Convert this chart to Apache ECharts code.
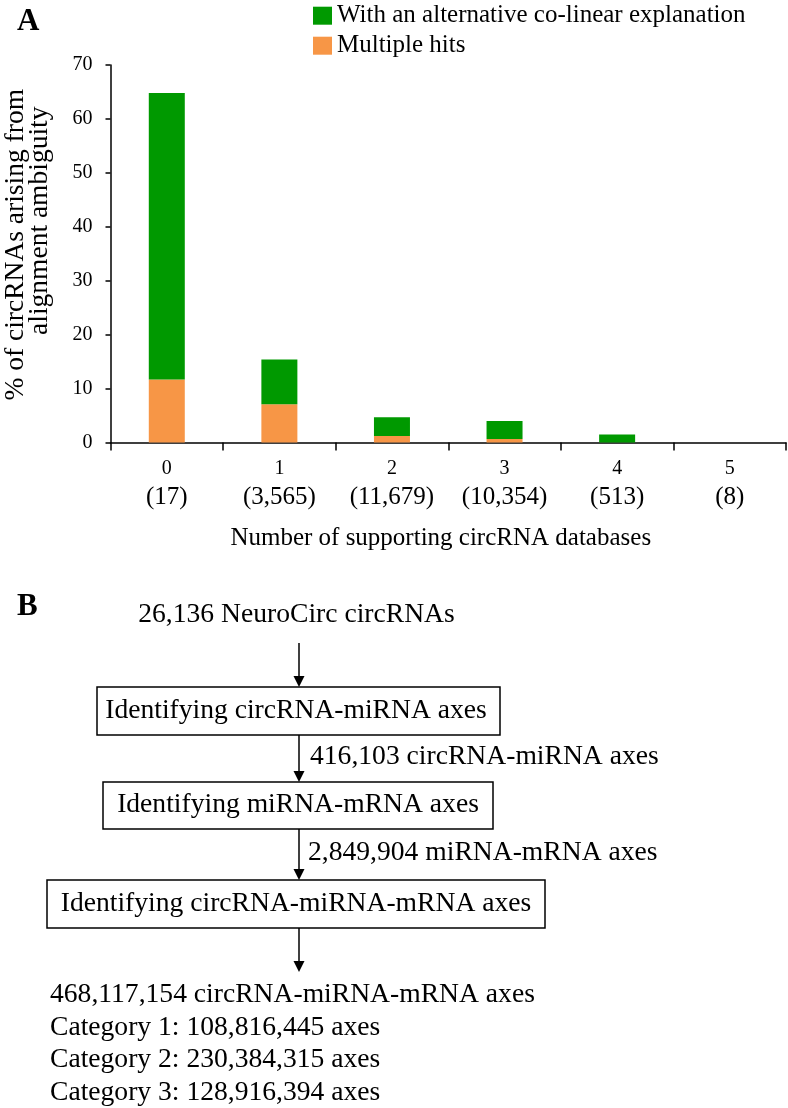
<!DOCTYPE html>
<html>
<head>
<meta charset="utf-8">
<script src="https://cdn.jsdelivr.net/npm/echarts@6/dist/echarts.min.js"></script>
<style>
html,body{margin:0;padding:0;background:#fff;}
#main{width:788px;height:1108px;}
</style>
</head>
<body>
<div id="main"></div>
<script>
// ---- Panel A data ----
const categories = ['0', '1', '2', '3', '4', '5'];
const dbCounts = ['(17)', '(3,565)', '(11,679)', '(10,354)', '(513)', '(8)'];
const multipleHits = [11.7, 7.1, 1.2, 0.65, 0, 0];
const coLinear = [53.1, 8.3, 3.5, 3.35, 1.5, 0];
const seriesNames = ['With an alternative co-linear explanation', 'Multiple hits'];
const yMin = 0, yMax = 70, yStep = 10;

// ---- Panel B text ----
const flowStart = '26,136 NeuroCirc circRNAs';
const flowSteps = ['Identifying circRNA-miRNA axes', 'Identifying miRNA-mRNA axes', 'Identifying circRNA-miRNA-mRNA axes'];
const flowCounts = ['416,103 circRNA-miRNA axes', '2,849,904 miRNA-mRNA axes'];
const flowResults = ['468,117,154 circRNA-miRNA-mRNA axes', 'Category 1: 108,816,445 axes', 'Category 2: 230,384,315 axes', 'Category 3: 128,916,394 axes'];

const FONT = "'Liberation Serif', 'Times New Roman', serif";
const GREEN = '#009900';
const ORANGE = '#F79646';

const chart = echarts.init(document.getElementById('main'), null, {renderer: 'canvas'});

const LW = 1.5;
const BFONT = '27.6px ' + FONT;
const graphics = [];
function txt(x, y, s, opts) {
  graphics.push({type: 'text', x: x, y: y, style: Object.assign({text: s, font: BFONT, fill: '#000', align: 'left', verticalAlign: 'middle'}, opts || {})});
}
function box(x1, y1, x2, y2) {
  graphics.push({type: 'rect', shape: {x: x1, y: y1, width: x2 - x1, height: y2 - y1}, style: {fill: '#fff', stroke: '#000', lineWidth: LW}});
}
function arrow(x, y1, y2) {
  graphics.push({type: 'line', shape: {x1: x, y1: y1, x2: x, y2: y2 - 9}, style: {stroke: '#000', lineWidth: LW}});
  graphics.push({type: 'polygon', shape: {points: [[x - 5.5, y2 - 11], [x + 5.5, y2 - 11], [x, y2]]}, style: {fill: '#000'}});
}

// panel labels
txt(17, 22, 'A', {font: 'bold 31px ' + FONT});
txt(17, 607, 'B', {font: 'bold 31px ' + FONT});

const AX = 299;
txt(296.5, 615, flowStart, {align: 'center'});
arrow(AX, 643, 687);
box(97, 687, 500, 735);
txt(296, 711, flowSteps[0], {align: 'center'});
txt(310, 757, flowCounts[0]);
arrow(AX, 735, 782);
box(103, 782, 493, 829);
txt(298, 805, flowSteps[1], {align: 'center'});
txt(308, 853, flowCounts[1]);
arrow(AX, 829, 880);
box(47, 880, 545, 928);
txt(296, 904, flowSteps[2], {align: 'center'});
arrow(AX, 928, 972);
const resY = [995, 1028, 1060, 1093];
flowResults.forEach((s, i) => txt(50, resY[i], s));

const option = {
  backgroundColor: '#fff',
  animation: false,
  textStyle: {fontFamily: FONT, color: '#000'},
  legend: {
    orient: 'vertical',
    left: 313, top: 3.2, padding: 0,
    itemWidth: 19, itemHeight: 18, itemGap: 5,
    icon: 'rect',
    data: [seriesNames[0], seriesNames[1]],
    textStyle: {fontFamily: FONT, fontSize: 25, color: '#000'},
    selectedMode: false
  },
  grid: {left: 110.5, right: 2, top: 65, bottom: 665.5, containLabel: false, outerBoundsMode: 'none'},
  xAxis: {
    type: 'category',
    data: categories,
    boundaryGap: true,
    axisLine: {lineStyle: {color: '#000', width: LW}},
    axisTick: {show: true, length: 8, lineStyle: {color: '#000', width: LW}, alignWithLabel: false},
    axisLabel: {
      interval: 0, margin: 13,
      formatter: (v, i) => '{a|' + v + '}\n{b|' + dbCounts[i] + '}',
      rich: {
        a: {fontFamily: FONT, fontSize: 20, lineHeight: 26, color: '#000'},
        b: {fontFamily: FONT, fontSize: 25, lineHeight: 32, color: '#000'}
      }
    },
    name: 'Number of supporting circRNA databases',
    nameLocation: 'middle',
    nameGap: 83,
    nameTextStyle: {fontFamily: FONT, fontSize: 25, color: '#000', padding: [0, 15, 0, 0]}
  },
  yAxis: {
    type: 'value',
    min: yMin, max: yMax, interval: yStep,
    splitLine: {show: false},
    axisLine: {show: true, lineStyle: {color: '#000', width: LW}},
    axisTick: {show: true, length: 5, lineStyle: {color: '#000', width: LW}},
    axisLabel: {margin: 18, fontFamily: FONT, fontSize: 20, color: '#000'},
    name: '{a|% of circRNAs arising from}\n{b|alignment ambiguity}',
    nameLocation: 'middle',
    nameRotate: 90,
    nameGap: 59,
    nameTextStyle: {
      rich: {
        a: {fontFamily: FONT, fontSize: 27.5, lineHeight: 24, color: '#000', padding: [0, 0, 0, 18]},
        b: {fontFamily: FONT, fontSize: 27.5, lineHeight: 24, color: '#000', padding: [0, 0, 0, 66]}
      }
    }
  },
  series: [
    {name: seriesNames[1], type: 'bar', stack: 'total', data: multipleHits, barWidth: 36, itemStyle: {color: ORANGE}},
    {name: seriesNames[0], type: 'bar', stack: 'total', data: coLinear, barWidth: 36, itemStyle: {color: GREEN}}
  ],
  graphic: graphics
};
chart.setOption(option);
</script>
</body>
</html>
